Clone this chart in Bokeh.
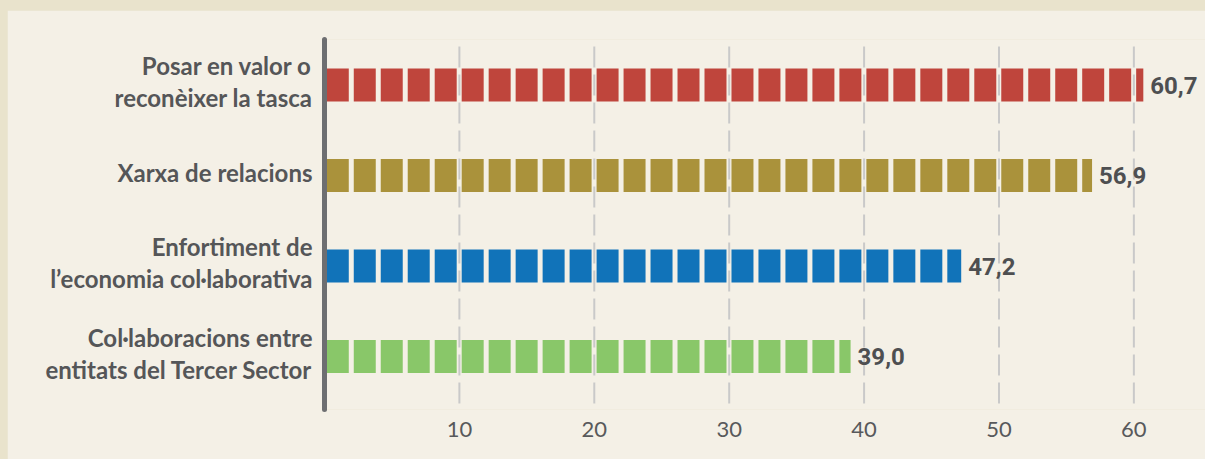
from bokeh.plotting import figure
from bokeh.models import Range1d, FixedTicker, ColumnDataSource
from bokeh.core.properties import value
from bokeh.embed import file_html
from bokeh.resources import INLINE

categories = [
    "Posar en valor o\nreconèixer la tasca",
    "Xarxa de relacions",
    "Enfortiment de\nl\u2019economia col\u00b7laborativa",
    "Col\u00b7laboracions entre\nentitats del Tercer Sector",
]
values = [60.7, 56.9, 47.2, 39.0]
value_labels = ["60,7", "56,9", "47,2", "39,0"]
colors = ["#bf453c", "#aa923b", "#1173b9", "#89c769"]
x_ticks = [10, 20, 30, 40, 50, 60]

SEG_STEP = 2.0
SEG_START = 0.17
SEG_END = 1.8
BAR_H = 0.365
LABEL_SHIFT = -0.035

p = figure(width=1198, height=449, output_backend="svg", toolbar_location=None,
           x_range=Range1d(0, 65.31), y_range=Range1d(3.5856, -0.5028),
           min_border_left=317, min_border_right=0, min_border_top=29, min_border_bottom=50)
p.margin = (10, 0, 0, 7)
p.background_fill_color = "#f4f0e6"
p.border_fill_color = "#f4f0e6"
p.outline_line_color = None
p.grid.visible = False

# dashed vertical grid lines (behind bars)
p.segment(x0=x_ticks, x1=x_ticks, y0=[-0.4254] * len(x_ticks), y1=[3.5856] * len(x_ticks),
          line_color="#c9c9c9", line_width=2, line_dash="21 7")

# segmented bars
left, right, ys, cols = [], [], [], []
for i, v in enumerate(values):
    k = 0
    while k * SEG_STEP + SEG_START < v:
        s = k * SEG_STEP + SEG_START
        e = min(k * SEG_STEP + SEG_END, v)
        left.append(s)
        right.append(e)
        ys.append(i)
        cols.append(colors[i])
        k += 1
p.hbar(y=ys, left=left, right=right, height=BAR_H, fill_color=cols, line_color=None)

# value labels
src = ColumnDataSource(dict(x=values, y=list(range(len(values))), t=value_labels))
p.text(x="x", y="y", text="t", source=src, x_offset=7, text_baseline="middle", text_align="left",
       text_font=value("Roboto"), text_font_style="bold", text_font_size="24px", text_color="#4e4f51")

# y axis: thick line + category labels
label_pos = [round(i + LABEL_SHIFT, 3) for i in range(len(categories))]
p.yaxis.ticker = FixedTicker(ticks=label_pos)
p.yaxis.major_label_overrides = {pos: c for pos, c in zip(label_pos, categories)}
p.yaxis.axis_line_width = 5
p.yaxis.axis_line_color = "#6d6e71"
p.yaxis.axis_line_cap = "round"
p.yaxis.major_tick_line_color = None
p.yaxis.minor_tick_line_color = None
p.yaxis.major_tick_out = 0
p.yaxis.major_tick_in = 0
p.yaxis.major_label_standoff = 12
p.yaxis.major_label_text_font = "Lato"
p.yaxis.major_label_text_font_style = "bold"
p.yaxis.major_label_text_font_size = "24px"
p.yaxis.major_label_text_color = "#555658"
p.yaxis.major_label_text_line_height = 1.1

# x axis
p.xaxis.ticker = FixedTicker(ticks=x_ticks)
p.xaxis.axis_line_color = None
p.xaxis.major_tick_line_color = None
p.xaxis.minor_tick_line_color = None
p.xaxis.major_tick_out = 0
p.xaxis.major_tick_in = 0
p.xaxis.major_label_standoff = 12
p.xaxis.major_label_text_font = "Lato"
p.xaxis.major_label_text_font_size = "22px"
p.xaxis.major_label_text_color = "#58595b"

html = file_html(p, INLINE)
html = html.replace("</head>", "<style>body{background:#e9e3cc;}</style></head>", 1)
open("out.html", "w").write(html)
